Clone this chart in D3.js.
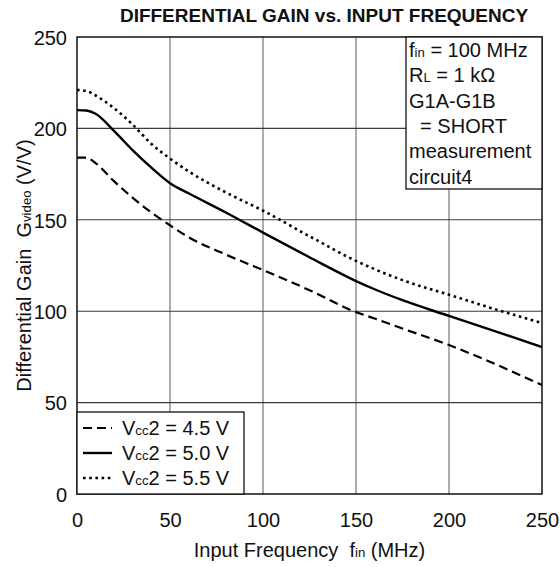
<!DOCTYPE html>
<html>
<head>
<meta charset="utf-8">
<script src="https://cdn.jsdelivr.net/npm/d3@7/dist/d3.min.js"></script>
<style>
  html, body { margin: 0; padding: 0; background: #fff; }
  svg text { font-family: "Liberation Sans", Arial, Helvetica, sans-serif; fill: #111; }
</style>
</head>
<body>
<svg id="chart" width="560" height="567"></svg>
<script>
// ---- data ----
const freq = [0, 5, 10, 20, 30, 40, 50, 60, 80, 100, 125, 150, 160, 175, 200, 225, 250];
const gain45 = [184, 184, 181, 171, 162, 154, 147, 140.5, 131, 122.5, 111.5, 99.5, 96, 90.5, 81.5, 71, 59.6];
const gain50 = [210, 209.8, 208, 198.5, 188, 178.5, 170, 164.5, 154, 143, 129.5, 116.5, 112, 106, 97.4, 89, 80.4];
const gain55 = [221, 220.5, 218, 211, 202, 191.5, 183.5, 176.5, 165, 155, 141, 127.5, 123, 117, 109, 101, 93.5];
const xTicks = [0, 50, 100, 150, 200, 250];
const yTicks = [0, 50, 100, 150, 200, 250];
const seriesNames = ["VCC2 = 4.5 V", "VCC2 = 5.0 V", "VCC2 = 5.5 V"];
const noteLines = ["fin = 100 MHz", "RL = 1 kΩ", "G1A-G1B", " = SHORT", "measurement", "circuit4"];

// ---- layout ----
const svg = d3.select("#chart");
const L = 77, R = 542, T = 37, B = 494;
const x = d3.scaleLinear().domain([0, 250]).range([L, R]);
const y = d3.scaleLinear().domain([0, 250]).range([B, T]);

// grid
const grid = svg.append("g");
grid.selectAll("line.v").data(xTicks.slice(1, -1)).enter().append("line")
  .attr("x1", d => x(d)).attr("x2", d => x(d)).attr("y1", T).attr("y2", B)
  .attr("stroke", "#6a6a6a").attr("stroke-width", 1.1);
grid.selectAll("line.h").data(yTicks.slice(1, -1)).enter().append("line")
  .attr("x1", L).attr("x2", R).attr("y1", d => y(d)).attr("y2", d => y(d))
  .attr("stroke", "#3a3a3a").attr("stroke-width", 1.1);

// axes (labels only)
const xAxis = svg.append("g").attr("transform", `translate(0,${B})`)
  .call(d3.axisBottom(x).tickValues(xTicks).tickSize(0).tickPadding(0).tickFormat(d3.format("d")));
xAxis.select(".domain").remove();
xAxis.selectAll("text").attr("y", 33).attr("dy", 0)
  .style("font-size", "20px").style("font-family", "'Liberation Sans', Arial, sans-serif").attr("fill", "#111");

const yAxis = svg.append("g").attr("transform", `translate(${L},0)`)
  .call(d3.axisLeft(y).tickValues(yTicks).tickSize(0).tickPadding(10).tickFormat(d3.format("d")));
yAxis.select(".domain").remove();
yAxis.selectAll("text").attr("dy", "0.36em")
  .style("font-size", "20px").style("font-family", "'Liberation Sans', Arial, sans-serif").attr("fill", "#111");

// clip
svg.append("clipPath").attr("id", "clip").append("rect")
  .attr("x", L).attr("y", T).attr("width", R - L).attr("height", B - T);

const line = d3.line().x(d => x(d[0])).y(d => y(d[1])).curve(d3.curveMonotoneX);
const styles = [
  { data: gain45, dash: "9,5", w: 2.2 },
  { data: gain50, dash: null, w: 2.4 },
  { data: gain55, dash: "2.6,3.6", w: 2.6 }
];
const curves = svg.append("g").attr("clip-path", "url(#clip)");
styles.forEach(s => {
  curves.append("path")
    .attr("d", line(freq.map((f, i) => [f, s.data[i]])))
    .attr("fill", "none").attr("stroke", "#000")
    .attr("stroke-width", s.w)
    .attr("stroke-dasharray", s.dash);
});

// frame
svg.append("rect").attr("x", L).attr("y", T).attr("width", R - L).attr("height", B - T)
  .attr("fill", "none").attr("stroke", "#111").attr("stroke-width", 1.5);

// helper for text with small-letter parts
function richText(g, tx, ty, parts, size, anchor) {
  const t = g.append("text").attr("x", tx).attr("y", ty)
    .attr("text-anchor", anchor || "start").style("font-size", size + "px");
  parts.forEach(p => {
    t.append("tspan").text(p[0]).style("font-size", (p[1] ? size * 0.66 : size) + "px");
  });
  return t;
}

// legend
const lg = svg.append("g");
lg.append("rect").attr("x", L).attr("y", 412).attr("width", 167).attr("height", B - 412)
  .attr("fill", "#fff").attr("stroke", "#111").attr("stroke-width", 1.3);
styles.forEach((s, i) => {
  const yy = 428 + i * 25;
  lg.append("line").attr("x1", 83).attr("x2", 112).attr("y1", yy).attr("y2", yy)
    .attr("stroke", "#000").attr("stroke-width", s.w).attr("stroke-dasharray", s.dash);
  const nm = seriesNames[i];
  richText(lg, 122, yy + 7, [["V", false], ["cc", true], [nm.slice(3), false]], 20);
});

// note box
const nb = svg.append("g");
nb.append("rect").attr("x", 406).attr("y", T).attr("width", R - 406).attr("height", 189 - T)
  .attr("fill", "#fff").attr("stroke", "#111").attr("stroke-width", 1.3);
const noteParts = [
  [["f", false], ["in", true], [noteLines[0].slice(3), false]],
  [["R", false], ["L", true], [noteLines[1].slice(2), false]],
  [[noteLines[2], false]],
  [["\u00a0\u00a0= SHORT", false]],
  [[noteLines[4], false]],
  [[noteLines[5], false]]
];
noteParts.forEach((p, i) => {
  richText(nb, 409, 57 + i * 25.3, p, 20);
});

// title
svg.append("text").attr("x", 324).attr("y", 22).attr("text-anchor", "middle")
  .style("font-size", "19px").style("font-weight", "bold")
  .text("DIFFERENTIAL GAIN vs. INPUT FREQUENCY");

// axis titles
richText(svg, (L + R) / 2, 557,
  [["Input Frequency\u00a0\u00a0f", false], ["in", true], [" (MHz)", false]], 20, "middle");

const yl = svg.append("g").attr("transform", `translate(31,${(T + B) / 2}) rotate(-90)`);
richText(yl, 0, 0,
  [["Differential Gain\u00a0\u00a0G", false], ["video", true], [" (V/V)", false]], 20, "middle");
</script>
</body>
</html>
